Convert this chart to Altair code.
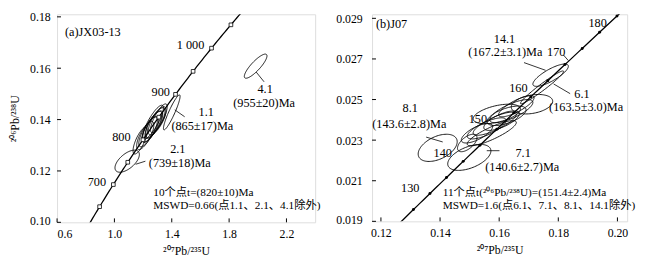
import altair as alt
import numpy as np
import pandas as pd

# ---------------- constants (U decay) ----------------
L238 = 1.55125e-10
L235 = 9.8485e-10

FONT = "'Liberation Serif', 'Noto Sans CJK SC', serif"

# ---------------- panel (a) JX03-13 ----------------
a_x_domain = [0.6, 2.4]
a_y_domain = [0.10, 0.181]
a_x_ticks = [0.6, 1.0, 1.4, 1.8, 2.2]
a_y_ticks = [0.10, 0.12, 0.14, 0.16, 0.18]
a_marker_ages = [650, 700, 750, 800, 850, 900, 950, 1000, 1050]

# error ellipses: centre (207/235, 206/238), half-widths, correlation
a_ell_x = [1.180, 1.215, 1.235, 1.250, 1.262, 1.275, 1.285, 1.298, 1.310, 1.270, 1.400, 1.089, 1.985]
a_ell_y = [0.1318, 0.1338, 0.1352, 0.1362, 0.1372, 0.1380, 0.1388, 0.1395, 0.1405, 0.1390, 0.1428, 0.1238, 0.1608]
a_ell_sx = [0.050, 0.060, 0.065, 0.058, 0.070, 0.062, 0.068, 0.062, 0.058, 0.072, 0.058, 0.085, 0.079]
a_ell_sy = [0.0052, 0.0055, 0.0058, 0.0050, 0.0060, 0.0054, 0.0058, 0.0055, 0.0056, 0.0066, 0.0068, 0.0043, 0.0047]
a_ell_rho = [0.75, 0.74, 0.78, 0.72, 0.80, 0.76, 0.78, 0.74, 0.80, 0.84, 0.92, 0.60, 0.85]

a_texts = [
    ("(a)JX03-13", 0.655, 0.1740, "left", 12.5),
    ("1 000", 1.627, 0.1691, "right", 12.5),
    ("900", 1.387, 0.1506, "right", 12.5),
    ("800", 1.113, 0.1332, "right", 12.5),
    ("700", 0.942, 0.1155, "right", 12.5),
    ("4.1", 2.051, 0.1520, "center", 12.5),
    ("(955±20)Ma", 2.044, 0.1464, "center", 12.5),
    ("1.1", 1.640, 0.1429, "center", 12.5),
    ("(865±17)Ma", 1.613, 0.1375, "center", 12.5),
    ("2.1", 1.442, 0.1285, "center", 12.5),
    ("(739±18)Ma", 1.456, 0.1230, "center", 12.5),
    ("10个点t=(820±10)Ma", 1.271, 0.1114, "left", 11.5),
    ("MSWD=0.66(点1.1、2.1、4.1除外)", 1.271, 0.1064, "left", 11.5),
]
a_segments = [
    (1.989, 0.1585, 2.044, 0.1547),
    (1.421, 0.1438, 1.490, 0.1411),
    (1.148, 0.1226, 1.216, 0.1238),
]

# ---------------- panel (b) J07 ----------------
b_x_domain = [0.117, 0.2033]
b_y_domain = [0.019, 0.0292]
b_x_ticks = [0.12, 0.14, 0.16, 0.18, 0.20]
b_y_ticks = [0.019, 0.021, 0.023, 0.025, 0.027, 0.029]
b_marker_ages = [125, 130, 135, 140, 145, 150, 155, 160, 165, 170, 175, 180, 185]

b_ell_x = [0.1492, 0.1525, 0.1558, 0.1585, 0.1608, 0.1625, 0.1592, 0.1641, 0.1575, 0.1658, 0.1711,
           0.1774, 0.1745, 0.1392, 0.1499]
b_ell_y = [0.02286, 0.02334, 0.02358, 0.02381, 0.02396, 0.02420, 0.02429, 0.02443, 0.02334, 0.02467, 0.02477,
           0.02620, 0.02560, 0.02262, 0.02215]
b_ell_sx = [0.0033, 0.0053, 0.0066, 0.0073, 0.0060, 0.0066, 0.0080, 0.0073, 0.0083, 0.0060, 0.0070,
            0.0060, 0.0073, 0.0066, 0.0073]
b_ell_sy = [0.00043, 0.00048, 0.00052, 0.00057, 0.00048, 0.00048, 0.00048, 0.00057, 0.00062, 0.00052, 0.00048,
            0.00055, 0.00081, 0.00067, 0.00064]
b_ell_rho = [0.60, 0.70, 0.75, 0.80, 0.70, 0.60, 0.50, 0.75, 0.85, 0.80, 0.30,
             0.80, 0.97, 0.45, 0.50]

b_texts = [
    ("(b)J07", 0.1183, 0.02872, "left", 12.5),
    ("14.1", 0.1618, 0.02796, "center", 12.5),
    ("(167.2±3.1)Ma", 0.1621, 0.02733, "center", 12.5),
    ("170", 0.1793, 0.02733, "center", 12.5),
    ("180", 0.1933, 0.02877, "center", 12.5),
    ("160", 0.1665, 0.02558, "center", 12.5),
    ("6.1", 0.1880, 0.02527, "center", 12.5),
    ("(163.5±3.0)Ma", 0.1894, 0.02463, "center", 12.5),
    ("8.1", 0.1299, 0.02460, "center", 12.5),
    ("(143.6±2.8)Ma", 0.1296, 0.02380, "center", 12.5),
    ("150", 0.1528, 0.02405, "center", 12.5),
    ("140", 0.1409, 0.02234, "center", 12.5),
    ("130", 0.1299, 0.02062, "center", 12.5),
    ("7.1", 0.1681, 0.02236, "center", 12.5),
    ("(140.6±2.7)Ma", 0.1678, 0.02165, "center", 12.5),
    ("11个点t(²⁰⁶Pb/²³⁸U)=(151.4±2.4)Ma", 0.1409, 0.02038, "left", 11.5),
    ("MSWD=1.6(点6.1、7.1、8.1、14.1除外)", 0.1409, 0.01976, "left", 11.5),
]
b_segments = [
    (0.1684, 0.02682, 0.1757, 0.02644),
    (0.1817, 0.02720, 0.1834, 0.02692),
    (0.1784, 0.02577, 0.1840, 0.02529),
    (0.1353, 0.02315, 0.1409, 0.02291),
    (0.1558, 0.02248, 0.1601, 0.02248),
]

X_TITLE = "²⁰⁷Pb/²³⁵U"
Y_TITLE = "²⁰⁶Pb/²³⁸U"


def ellipse_frame(cx, cy, sx, sy, rho):
    rows = []
    t = np.linspace(0, 2 * np.pi, 91)
    for i, (a, b, c, d, r) in enumerate(zip(cx, cy, sx, sy, rho)):
        xs = a + c * np.cos(t)
        ys = b + d * (r * np.cos(t) + np.sqrt(1 - r * r) * np.sin(t))
        for k, (xx, yy) in enumerate(zip(xs, ys)):
            rows.append({"id": i, "k": k, "x": xx, "y": yy})
    return pd.DataFrame(rows)


def concordia_frame(t0, t1, step):
    ages = np.arange(t0, t1 + step / 2, step) * 1e6
    return pd.DataFrame({"x": np.expm1(L235 * ages), "y": np.expm1(L238 * ages), "k": np.arange(len(ages))})


def marker_frame(ages):
    a = np.array(ages, dtype=float) * 1e6
    return pd.DataFrame({"x": np.expm1(L235 * a), "y": np.expm1(L238 * a)})


def panel(xdom, ydom, xticks, yticks, xfmt, yfmt, ytitle, ylabpad, w, h,
          ell, conc, markers, texts, segs, marker_kind):
    xax = alt.Axis(values=xticks, format=xfmt, ticks=False, domain=False, grid=False,
                   labelFont=FONT, labelFontSize=12, labelPadding=6, labelColor="black",
                   title=X_TITLE, titleFont=FONT, titleFontSize=12, titleFontWeight="normal",
                   titlePadding=7, titleColor="black")
    yargs = dict(values=yticks, format=yfmt, ticks=False, domain=False, grid=False,
                 labelFont=FONT, labelFontSize=12, labelPadding=ylabpad, labelColor="black",
                 labelFlush=True, labelFlushOffset=5)
    if ytitle:
        yax = alt.Axis(title=ytitle, titleFont=FONT, titleFontSize=12, titleFontWeight="normal",
                       titlePadding=8, titleColor="black", **yargs)
    else:
        yax = alt.Axis(title=None, **yargs)
    X = alt.X("x:Q", scale=alt.Scale(domain=xdom, nice=False, zero=False), axis=xax)
    Y = alt.Y("y:Q", scale=alt.Scale(domain=ydom, nice=False, zero=False), axis=yax)

    layers = []
    layers.append(alt.Chart(ell).mark_line(color="black", strokeWidth=0.9, clip=True).encode(
        x=X, y=Y, detail="id:N", order="k:Q"))
    layers.append(alt.Chart(conc).mark_line(color="black", strokeWidth=1.3, clip=True).encode(
        x=X, y=Y, order="k:Q"))
    if marker_kind == "square":
        layers.append(alt.Chart(markers).mark_square(size=14, filled=True, fill="white", stroke="black",
                                                     strokeWidth=0.8, opacity=1, clip=True).encode(x=X, y=Y))
    else:
        layers.append(alt.Chart(markers).mark_circle(size=9, color="black", opacity=1, clip=True).encode(x=X, y=Y))
    sdf = pd.DataFrame(segs, columns=["x", "y", "x2", "y2"])
    layers.append(alt.Chart(sdf).mark_rule(color="black", strokeWidth=0.8).encode(
        x=X, y=Y, x2="x2:Q", y2="y2:Q"))
    tdf = pd.DataFrame(texts, columns=["label", "x", "y", "align", "size"])
    for (al, sz), g in tdf.groupby(["align", "size"]):
        layers.append(alt.Chart(g).mark_text(align=al, baseline="middle", font=FONT, fontSize=float(sz),
                                             color="black").encode(x=X, y=Y, text="label:N"))
    # inward ticks
    xt = pd.DataFrame({"x": xticks})
    layers.append(alt.Chart(xt).mark_rule(color="black", strokeWidth=1).encode(
        x=X, y=alt.value(h), y2=alt.value(h - 4)))
    yt = pd.DataFrame({"y": yticks})
    layers.append(alt.Chart(yt).mark_rule(color="black", strokeWidth=1).encode(
        y=Y, x=alt.value(0), x2=alt.value(4)))
    return alt.layer(*layers).properties(width=w, height=h)


pa = panel(a_x_domain, a_y_domain, a_x_ticks, a_y_ticks, ".1f", ".2f", Y_TITLE, 7, 263, 212,
           ellipse_frame(a_ell_x, a_ell_y, a_ell_sx, a_ell_sy, a_ell_rho),
           concordia_frame(550, 1150, 5), marker_frame(a_marker_ages), a_texts, a_segments, "square")
pb = panel(b_x_domain, b_y_domain, b_x_ticks, b_y_ticks, ".2f", ".3f", None, 10, 260, 211,
           ellipse_frame(b_ell_x, b_ell_y, b_ell_sx, b_ell_sy, b_ell_rho),
           concordia_frame(115, 195, 1), marker_frame(b_marker_ages), b_texts, b_segments, "circle")

chart = alt.hconcat(pa, pb, spacing=13).properties(
    padding={"left": 0, "top": 0, "right": 0, "bottom": 0}
).configure_view(stroke="black", strokeWidth=1.2).configure(background="white")

chart.save("out.html", embed_options={"renderer": "svg", "actions": False})
